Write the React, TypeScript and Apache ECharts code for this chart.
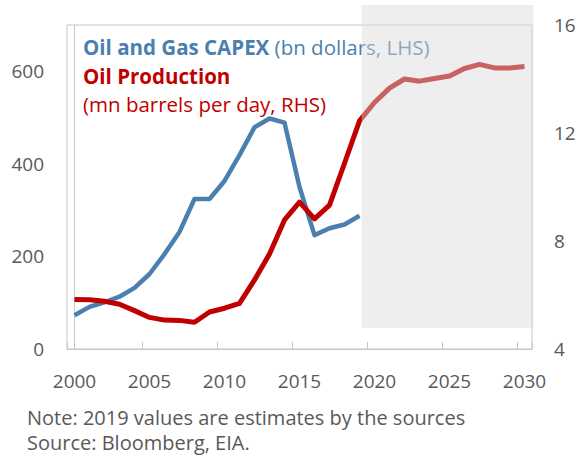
import React, { useEffect, useRef } from "react";
import * as echarts from "echarts";

const years: string[] = [
  "2000","2001","2002","2003","2004","2005","2006","2007","2008","2009",
  "2010","2011","2012","2013","2014","2015","2016","2017","2018","2019",
  "2020","2021","2022","2023","2024","2025","2026","2027","2028","2029","2030",
];

// Oil and Gas CAPEX, bn dollars (LHS), 2000-2019
const capex: (number | null)[] = [
  73, 91, 101, 113, 132, 162, 205, 253, 324, 324,
  363, 419, 479, 498, 489, 350, 246, 261, 269, 288,
];

// Oil production, mn barrels per day (RHS), 2000-2030
const production: number[] = [
  5.83, 5.82, 5.77, 5.66, 5.42, 5.17, 5.07, 5.06, 4.99, 5.37,
  5.51, 5.69, 6.56, 7.52, 8.78, 9.44, 8.82, 9.33, 10.88, 12.45,
  13.13, 13.66, 14.0, 13.92, 14.02, 14.11, 14.39, 14.54, 14.41, 14.41, 14.46,
];

// Forecast shading, in category-index units (x) and LHS units (y)
const shade: number[][] = [[19.15, 46, 30.6, 743]];

const leftTicks = [0, 200, 400, 600];
const rightTicks = [4, 8, 12, 16];

const FONT = "'Open Sans', 'Noto Sans', sans-serif";
const GRAY = "#595959";
const BORDER = "#c6c6c6";
const BLUE = "#4a7fb0";
const RED = "#c00000";
const LEG = 20.5;
const NOTE = 20;

export default function App() {
  const ref = useRef<HTMLDivElement>(null);
  useEffect(() => {
    if (!ref.current) return;
    const chart = echarts.init(ref.current, undefined, { renderer: "svg" });
    chart.setOption({
      animation: false,
      backgroundColor: "#ffffff",
      textStyle: { fontFamily: FONT },
      grid: {
        left: 67,
        right: 47,
        top: 25,
        bottom: 107,
        show: true,
        borderColor: BORDER,
        borderWidth: 1,
        containLabel: false,
      },
      xAxis: [
        {
          type: "category",
          data: years,
          boundaryGap: true,
          axisLine: { show: true, lineStyle: { color: BORDER, width: 1 } },
          axisTick: { show: true, inside: true, length: 7, interval: 4, lineStyle: { color: BORDER } },
          axisLabel: { interval: 4, color: GRAY, fontSize: 19, margin: 22, fontFamily: FONT },
          splitLine: { show: false },
        },
        {
          type: "value",
          min: -0.5,
          max: 30.5,
          show: false,
        },
      ],
      yAxis: [
        {
          type: "value",
          min: 0,
          max: 700,
          interval: 200,
          axisLine: { show: true, lineStyle: { color: BORDER } },
          axisTick: { show: false },
          splitLine: { show: false },
          axisLabel: {
            color: GRAY,
            fontSize: 19,
            margin: 23,
            fontFamily: FONT,
            formatter: (v: number) => (leftTicks.includes(v) ? String(v) : ""),
          },
        },
        {
          type: "value",
          min: 4,
          max: 16,
          interval: 4,
          position: "right",
          axisLine: { show: false },
          axisTick: { show: false },
          splitLine: { show: false },
          axisLabel: {
            color: GRAY,
            fontSize: 19,
            margin: 22,
            fontFamily: FONT,
            formatter: (v: number) => (rightTicks.includes(v) ? String(v) : ""),
          },
        },
      ],
      graphic: [
        {
          type: "text",
          x: 83,
          y: 47,
          z: 1,
          style: {
            text: "{b|Oil and Gas CAPEX}{r| (bn dollars, LHS)}",
            fill: BLUE,
            verticalAlign: "middle",
            rich: {
              b: { fontFamily: FONT, fontSize: LEG, fontWeight: "bold", fill: BLUE },
              r: { fontFamily: FONT, fontSize: LEG, fontWeight: "normal", fill: BLUE },
            },
          },
        },
        {
          type: "text",
          x: 83,
          y: 76,
          z: 1,
          style: { text: "Oil Production", fill: RED, font: `bold ${LEG}px ${FONT}`, verticalAlign: "middle" },
        },
        {
          type: "text",
          x: 83,
          y: 104,
          z: 1,
          style: { text: "(mn barrels per day, RHS)", fill: RED, font: `${LEG}px ${FONT}`, verticalAlign: "middle" },
        },
        {
          type: "text",
          x: 27,
          y: 417,
          style: { text: "Note: 2019 values are estimates by the sources", fill: GRAY, font: `${NOTE}px ${FONT}`, verticalAlign: "middle" },
        },
        {
          type: "text",
          x: 27,
          y: 442,
          style: { text: "Source: Bloomberg, EIA.", fill: GRAY, font: `${NOTE}px ${FONT}`, verticalAlign: "middle" },
        },
      ],
      series: [
        {
          name: "Oil and Gas CAPEX",
          type: "line",
          xAxisIndex: 0,
          yAxisIndex: 0,
          data: capex,
          symbol: "none",
          lineStyle: { color: BLUE, width: 4.5, cap: "butt", join: "round" },
          z: 3,
        },
        {
          name: "Oil Production",
          type: "line",
          xAxisIndex: 0,
          yAxisIndex: 1,
          data: production,
          symbol: "none",
          lineStyle: { color: RED, width: 5, cap: "butt", join: "round" },
          z: 4,
        },
        {
          name: "Forecast",
          type: "custom",
          xAxisIndex: 1,
          yAxisIndex: 0,
          clip: false,
          z: 10,
          silent: true,
          data: shade,
          encode: { x: [0, 2], y: [1, 3] },
          renderItem: (params: any, api: any) => {
            const p1 = api.coord([api.value(0), api.value(3)]);
            const p2 = api.coord([api.value(2), api.value(1)]);
            return {
              type: "rect",
              shape: { x: p1[0], y: p1[1], width: p2[0] - p1[0], height: p2[1] - p1[1] },
              style: { fill: "rgba(217,217,217,0.45)" },
            };
          },
        },
      ],
    });
    return () => chart.dispose();
  }, []);
  return (
    <div
      ref={ref}
      style={{ position: "fixed", left: 0, top: 0, width: 579, height: 456 }}
    />
  );
}
